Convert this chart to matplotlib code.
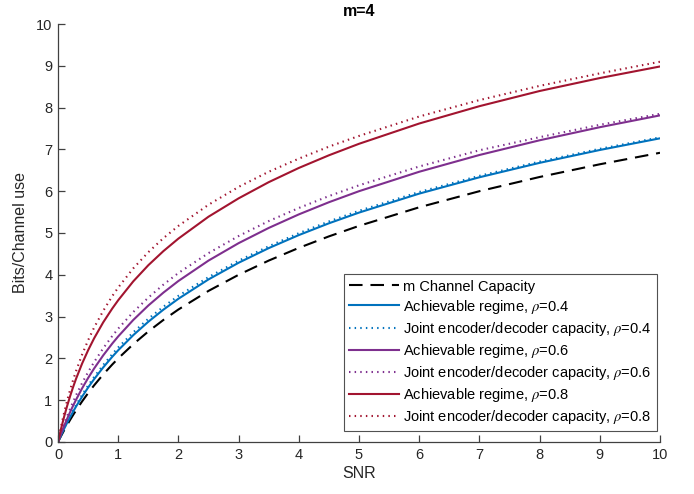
import matplotlib
matplotlib.use("Agg")
import matplotlib.pyplot as plt

# SNR grid and curve values (bits per channel use)
snr = [0, 0.025, 0.05, 0.1, 0.15, 0.2, 0.25, 0.3, 0.4, 0.5, 0.6, 0.75, 0.9, 1,
       1.25, 1.5, 1.75, 2, 2.5, 3, 3.5, 4, 4.5, 5, 6, 7, 8, 9, 10]

capacity = [0, 0.071, 0.141, 0.275, 0.403, 0.526, 0.644, 0.757, 0.971, 1.170,
            1.356, 1.615, 1.852, 2.000, 2.340, 2.644, 2.919, 3.170, 3.615,
            4.000, 4.340, 4.644, 4.919, 5.170, 5.615, 6.000, 6.340, 6.644, 6.919]

achv_04 = [0, 0.081, 0.160, 0.311, 0.456, 0.593, 0.724, 0.849, 1.084, 1.302,
           1.504, 1.783, 2.037, 2.195, 2.556, 2.877, 3.165, 3.427, 3.890,
           4.288, 4.638, 4.950, 5.232, 5.488, 5.942, 6.333, 6.678, 6.986, 7.265]
joint_04 = [0, 0.085, 0.168, 0.327, 0.478, 0.621, 0.757, 0.886, 1.128, 1.352,
            1.557, 1.841, 2.101, 2.262, 2.624, 2.948, 3.235, 3.497, 3.945,
            4.337, 4.682, 4.995, 5.276, 5.531, 5.981, 6.367, 6.708, 7.014, 7.288]

achv_06 = [0, 0.099, 0.195, 0.378, 0.550, 0.712, 0.866, 1.012, 1.283, 1.531,
           1.759, 2.071, 2.353, 2.526, 2.919, 3.265, 3.573, 3.852, 4.340,
           4.757, 5.121, 5.445, 5.736, 6.000, 6.465, 6.866, 7.218, 7.531, 7.814]
joint_06 = [0, 0.112, 0.219, 0.423, 0.614, 0.792, 0.961, 1.120, 1.410, 1.672,
            1.913, 2.241, 2.534, 2.712, 3.109, 3.454, 3.764, 4.043, 4.519,
            4.927, 5.285, 5.598, 5.883, 6.141, 6.591, 6.979, 7.292, 7.588, 7.852]

achv_08 = [0, 0.161, 0.314, 0.597, 0.855, 1.092, 1.311, 1.514, 1.876, 2.195,
           2.481, 2.861, 3.191, 3.392, 3.843, 4.229, 4.566, 4.866, 5.390,
           5.829, 6.216, 6.556, 6.859, 7.134, 7.619, 8.034, 8.397, 8.707, 8.984]
joint_08 = [0, 0.190, 0.367, 0.690, 0.980, 1.242, 1.480, 1.700, 2.091, 2.434,
            2.739, 3.136, 3.488, 3.696, 4.154, 4.541, 4.876, 5.170, 5.676,
            6.103, 6.465, 6.779, 7.066, 7.322, 7.787, 8.180, 8.520, 8.819, 9.097]

rhos = ["0.4", "0.6", "0.8"]
colors = ["#0072BD", "#7E2F8E", "#A2142F"]

plt.rcParams["font.family"] = ["Liberation Sans", "DejaVu Sans"]
plt.rcParams["mathtext.fontset"] = "stix"

fig = plt.figure(figsize=(6.94, 4.94), dpi=100)
ax = fig.add_axes([0.0836, 0.1053, 0.8674, 0.8461])

axis_col = "#404040"
ax.plot(snr, capacity, color="black", lw=1.5, ls=(0, (6.5, 3.8)),
        label="m Channel Capacity")
for achv, joint, rho, col in zip([achv_04, achv_06, achv_08],
                                 [joint_04, joint_06, joint_08], rhos, colors):
    ax.plot(snr, achv, color=col, lw=1.5,
            label=r"Achievable regime, $\rho$=" + rho)
    ax.plot(snr, joint, color=col, lw=1.5, ls=(0, (0.7, 2.0)),
            label=r"Joint encoder/decoder capacity, $\rho$=" + rho)

ax.set_xlim(0, 10)
ax.set_ylim(0, 10)
ax.set_xticks(range(0, 11))
ax.set_yticks(range(0, 11))
for side in ("top", "right"):
    ax.spines[side].set_visible(False)
for side in ("left", "bottom"):
    ax.spines[side].set_color(axis_col)
    ax.spines[side].set_linewidth(0.9)
ax.tick_params(direction="in", length=5, width=0.9, color=axis_col,
               labelcolor="#262626", labelsize=10.5, pad=4)

ax.set_xlabel("SNR", fontsize=11.5, color="#262626", labelpad=3)
ax.set_ylabel("Bits/Channel use", fontsize=11.5, color="#262626", labelpad=6)
ax.set_title("m=4", fontsize=11.5, fontweight="bold", color="black", pad=6)

leg = ax.legend(loc="lower right", bbox_to_anchor=(0.995, 0.026),
                borderaxespad=0, fontsize=10.5, frameon=True, fancybox=False,
                handlelength=3.4, handletextpad=0.3, labelspacing=0.28,
                borderpad=0.35)
leg.get_frame().set_edgecolor("#262626")
leg.get_frame().set_linewidth(0.8)
for t in leg.get_texts():
    t.set_color("black")

fig.savefig("out.png", dpi=100)
